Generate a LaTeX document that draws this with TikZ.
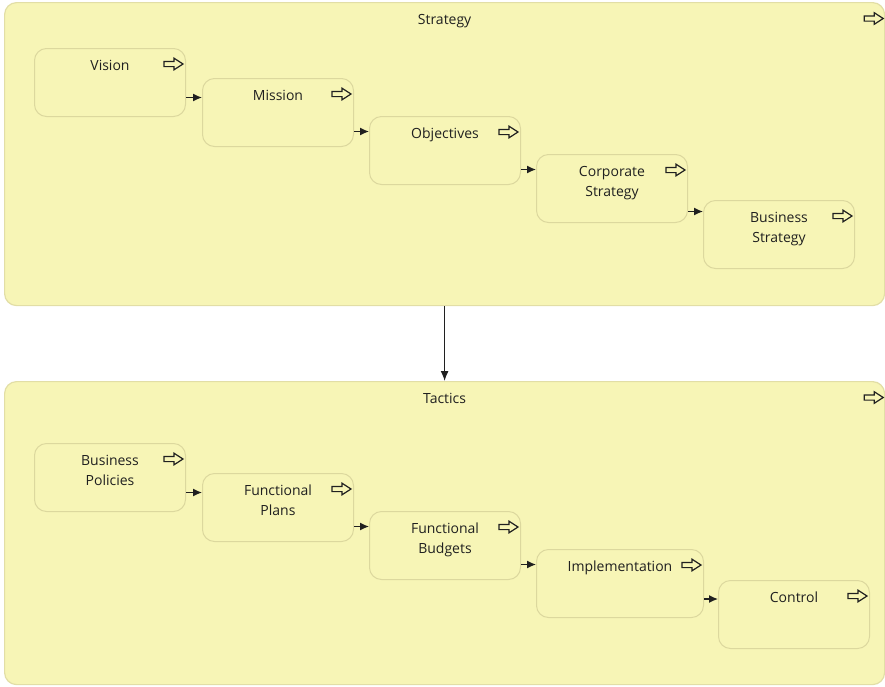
\documentclass[tikz,border=0pt]{standalone}
\usepackage{fontspec}
\setmainfont{Open Sans}
\usetikzlibrary{arrows.meta,calc}

\definecolor{panelfill}{RGB}{247,245,182}
\definecolor{panelline}{RGB}{226,222,166}
\definecolor{boxline}{RGB}{220,216,158}
\definecolor{ink}{RGB}{32,32,32}

\tikzset{
  panel/.style={draw=panelline, fill=panelfill, rounded corners=12pt,
    line width=1.2pt, anchor=north west, inner sep=0pt,
    minimum width=880pt, minimum height=303pt},
  stepbox/.style={draw=boxline, fill=panelfill, rounded corners=12pt,
    line width=1pt, anchor=north west, inner sep=0pt,
    minimum width=151pt, minimum height=68pt},
  lbl/.style={font=\fontsize{14}{20}\selectfont, text=ink, align=center,
    anchor=north, inner sep=0pt},
  flow/.style={-{Latex[length=9pt,width=8pt]}, line width=1.3pt, draw=ink},
  link/.style={-{Latex[length=10pt,width=8pt]}, line width=1.3pt, draw=ink},
  expander/.pic={
    \draw[ink, line width=1.2pt, line join=miter]
      (-9.5,-2.6) -- (0.5,-2.6) -- (0.5,-5.8) -- (9.5,0) -- (0.5,5.8)
      -- (0.5,2.6) -- (-9.5,2.6) -- cycle;
  }
}

% a step: box, caption near its top, expander icon at its top right
\newcommand{\stepnode}[4][151pt]{%
  \node[stepbox, minimum width=#1] (#2) at (#3) {};
  \node[lbl] (#2-text) at ($(#2.north)+(0,12)$) {#4};
  \pic at ($(#2.north east)+(-12.5,16)$) {expander};
}
% horizontal arrow through the middle of the vertical overlap of two steps
\newcommand{\stepflow}[2]{%
  \coordinate (#1-#2) at ($(#1.south east)!0.5!(#2.north west)$);
  \draw[flow] (#1.east |- #1-#2) -- (#2.west |- #1-#2);
}

\begin{document}
\begin{tikzpicture}[x=1pt, y=-1pt]
  \useasboundingbox (0,0) rectangle (885,686);

  % ---- Strategy panel ----
  \node[panel] (strategy) at (4,2) {};
  \node[lbl] (strategy-text) at ($(strategy.north)+(0,12)$) {Strategy};
  \pic at ($(strategy.north east)+(-11.5,16.5)$) {expander};

  \stepnode{vision}{34,48}{Vision}
  \stepnode{mission}{202,78}{Mission}
  \stepnode{objectives}{369,116}{Objectives}
  \stepnode{corporate}{536,154}{Corporate\\Strategy}
  \stepnode{business}{703,200}{Business\\Strategy}

  \stepflow{vision}{mission}
  \stepflow{mission}{objectives}
  \stepflow{objectives}{corporate}
  \stepflow{corporate}{business}

  % ---- Tactics panel ----
  \node[panel] (tactics) at (4,381) {};
  \node[lbl] (tactics-text) at ($(tactics.north)+(0,12)$) {Tactics};
  \pic at ($(tactics.north east)+(-11.5,16.5)$) {expander};

  \stepnode{policies}{34,443}{Business\\Policies}
  \stepnode{plans}{202,473}{Functional\\Plans}
  \stepnode{budgets}{369,511}{Functional\\Budgets}
  \stepnode[167pt]{implementation}{536,549}{Implementation}
  \stepnode{control}{718,580}{Control}

  \stepflow{policies}{plans}
  \stepflow{plans}{budgets}
  \stepflow{budgets}{implementation}
  \stepflow{implementation}{control}

  % ---- Strategy leads to Tactics ----
  \draw[link] (strategy.south) -- (tactics.north);
\end{tikzpicture}
\end{document}
